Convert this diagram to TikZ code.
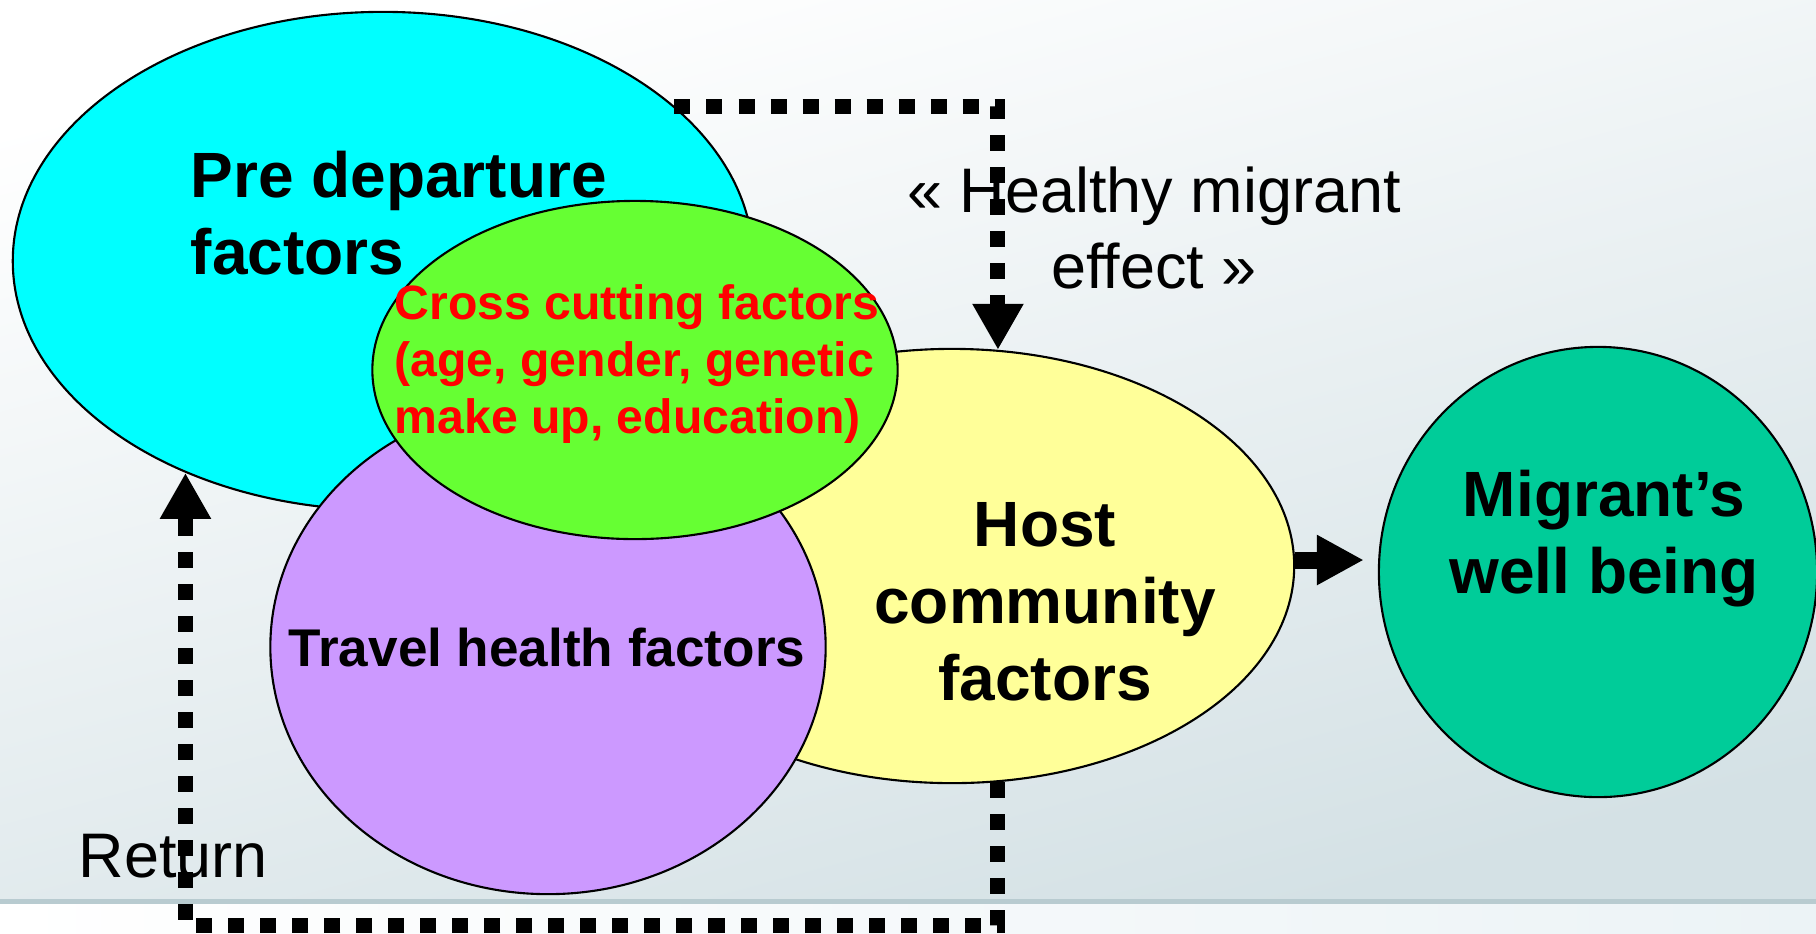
\documentclass[tikz,border=0pt]{standalone}
\usepackage{fontspec}
\setmainfont{Liberation Sans}
\usetikzlibrary{shapes.geometric,arrows.meta}

\definecolor{precyan}{RGB}{0,255,255}
\definecolor{crossgreen}{RGB}{102,255,51}
\definecolor{hostyellow}{RGB}{255,255,153}
\definecolor{travelpurple}{RGB}{204,153,255}
\definecolor{wellteal}{RGB}{0,204,153}
\definecolor{bgdeep}{RGB}{212,225,229}
\definecolor{bgline}{RGB}{184,203,208}
\definecolor{bglow}{RGB}{236,243,246}

\begin{document}
\begin{tikzpicture}[x=0.01cm,y=-0.01cm,
    blob/.style={ellipse,draw=black,line width=0.6pt,inner sep=0pt},
    dotline/.style={line width=0.15cm,dash pattern=on 0.16cm off 0.16cm,
      -{Triangle[length=0.46cm,width=0.48cm]}},
    big/.style={inner sep=0pt,align=center,font=\fontsize{18.2pt}{21.9pt}\selectfont\bfseries}]
  \useasboundingbox (0,0) rectangle (1816,933);
  \shade[top color=white,bottom color=bgdeep,shading angle=15] (0,0) rectangle (1816,900);
  \fill[bgline] (0,899) rectangle (1816,904);
  \shade[left color=white,right color=bglow] (0,904) rectangle (1816,933);

  \node[blob,fill=precyan,minimum width=7.40cm,minimum height=4.98cm] (pre) at (383,261) {};
  \node[blob,fill=hostyellow,minimum width=6.84cm,minimum height=4.34cm] (host) at (952,566) {};
  \node[blob,fill=travelpurple,minimum width=5.55cm,minimum height=4.94cm] (travel) at (548,647) {};
  \node[blob,fill=crossgreen,minimum width=5.25cm,minimum height=3.38cm] (cross) at (635,370) {};
  \node[blob,fill=wellteal,minimum width=4.38cm,minimum height=4.50cm] (well) at (1598,572) {};

  \node[big,anchor=west,align=left] (pret) at (190,213) {Pre departure\\factors};
  \node[anchor=west,align=left,inner sep=0pt,text=red,
    font=\fontsize{13.7pt}{16.1pt}\selectfont\bfseries] (crosst) at (394,364)
    {Cross cutting factors\\(age, gender, genetic\\make up, education)};
  \node[inner sep=0pt,font=\fontsize{15.1pt}{18pt}\selectfont\bfseries] (travelt) at (547,648) {Travel health factors};
  \node[big] (hostt) at (1045,602) {Host\\community\\factors};
  \node[big] (wellt) at (1604,539) {Migrant’s\\well being};
  \node[inner sep=0pt,align=center,font=\fontsize{17.9pt}{21.4pt}\selectfont] (effect) at (1154,228)
    {« Healthy migrant\\effect »};
  \node[anchor=west,inner sep=0pt,font=\fontsize{17.9pt}{21pt}\selectfont] (ret) at (78,856) {Return};

  \coordinate (floor) at (0,925);
  \draw[dotline] (pre.28) -| (host.78);
  \draw[dotline] (host.-78) -- (host.-78 |- floor) -| (pre.227);
  \draw[line width=0.17cm,-{Triangle[length=0.47cm,width=0.47cm]},shorten >=0.14cm]
    (host.1.5) -- (host.1.5 -| well.west);
\end{tikzpicture}
\end{document}
